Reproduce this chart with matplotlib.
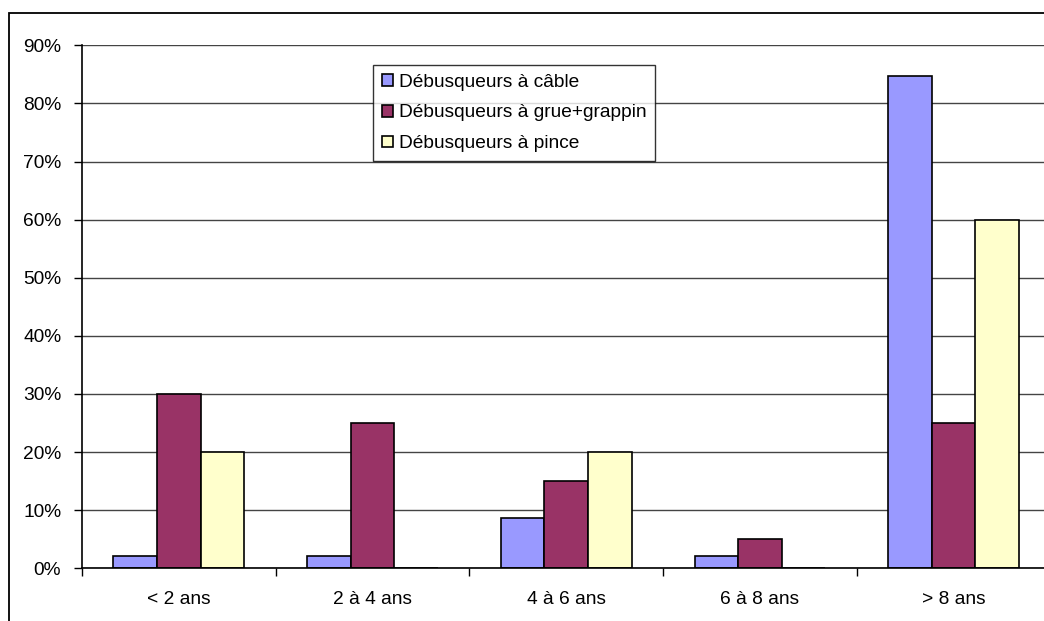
import numpy as np
import matplotlib
matplotlib.use("Agg")
from matplotlib import pyplot as plt
from matplotlib.patches import Rectangle
from matplotlib.ticker import FuncFormatter, FixedLocator

categories = ["< 2 ans", "2 à 4 ans", "4 à 6 ans", "6 à 8 ans", "> 8 ans"]
series_names = ["Débusqueurs à câble", "Débusqueurs à grue+grappin", "Débusqueurs à pince"]
cable = [2.1, 2.1, 8.7, 2.1, 84.8]
grue = [30, 25, 15, 5, 25]
pince = [20, 0, 20, 0, 60]
colors = ["#9999FF", "#993366", "#FFFFCC"]

plt.rcParams['font.family'] = ['Liberation Sans', 'DejaVu Sans']
FS = 13.8

W, H = 1044, 621
fig = plt.figure(figsize=(W / 100, H / 100), dpi=100)
# plot area runs past the right edge of the image (cropped, as in the reference)
ax = fig.add_axes([82 / W, 1 - 568.3 / H, (1050.5 - 82) / W, (568.3 - 45.3) / H])

# outer chart border (right/bottom cut off in the reference)
fig.patches.append(Rectangle((9 / W, -0.05), 1.2, 1 - 13 / H + 0.05,
                             transform=fig.transFigure, fill=False,
                             edgecolor="black", linewidth=1.3))

x = np.arange(len(categories))
bw = 0.225
for i, (vals, name) in enumerate(zip([cable, grue, pince], series_names)):
    ax.bar(x + (i - 1) * bw, vals, bw, color=colors[i], edgecolor="black",
           linewidth=1.2, label=name, zorder=3)

ax.set_xlim(-0.5, len(categories) - 0.5)
ax.set_ylim(0, 90)
ax.set_yticks(np.arange(0, 91, 10))
ax.yaxis.set_major_formatter(FuncFormatter(lambda v, p: f"{v:.0f}%"))
ax.grid(axis="y", color="#444444", linewidth=1.0, zorder=0)

ax.set_xticks(x)
ax.set_xticklabels(categories, fontsize=FS)
ax.xaxis.set_minor_locator(FixedLocator(np.arange(-0.5, len(categories), 1.0)))
ax.tick_params(axis="x", which="major", length=0, pad=16)
ax.tick_params(axis="x", which="minor", length=6, width=1, color="black")
ax.tick_params(axis="y", length=6, width=1, labelsize=FS, pad=9)

for s in ["top", "right"]:
    ax.spines[s].set_visible(False)
for s in ["left", "bottom"]:
    ax.spines[s].set_linewidth(1.2)
    ax.spines[s].set_zorder(4)

leg = ax.legend(loc="upper left", bbox_to_anchor=(373 / W, 1 - 65 / H),
                bbox_transform=fig.transFigure, fontsize=FS, frameon=True,
                fancybox=False, shadow=False, handlelength=0.57, handleheight=0.57,
                handletextpad=0.32, borderpad=0.45, labelspacing=0.72, borderaxespad=0)
leg.get_frame().set_edgecolor("black")
leg.get_frame().set_linewidth(1.0)
leg.set_zorder(5)

fig.savefig("out.png", dpi=100)
